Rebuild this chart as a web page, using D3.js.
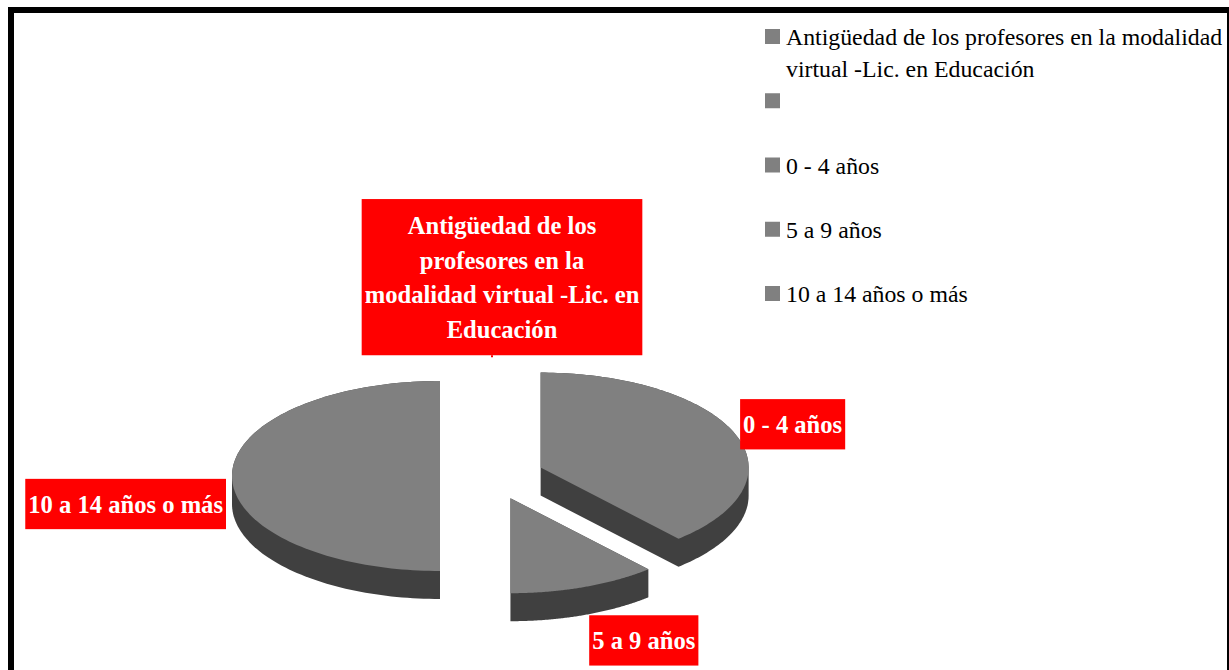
<!DOCTYPE html>
<html>
<head>
<meta charset="utf-8">
<script src="https://cdn.jsdelivr.net/npm/d3@7"></script>
<style>
  body { margin: 0; background: #fff; }
  svg { display: block; }
  text { font-family: "Liberation Serif", "Times New Roman", serif; }
</style>
</head>
<body>
<div id="chart"></div>
<script>
// chart data (first two entries are empty series entries with no value)
var categories = ["Antigüedad de los profesores en la modalidad virtual -Lic. en Educación",
                  "",
                  "0 - 4 años",
                  "5 a 9 años",
                  "10 a 14 años o más"];
var values = [0, 0, 10, 3, 13];

var width = 1229, height = 670;

var svg = d3.select("#chart")
  .append("svg")
    .attr("width", width)
    .attr("height", height);

svg.append("rect")
  .attr("width", width)
  .attr("height", height)
  .attr("fill", "#fff");

// black frame (bottom edge runs off the picture)
svg.append("rect")
  .attr("x", 11).attr("y", 10)
  .attr("width", 1219).attr("height", 720)
  .attr("fill", "none")
  .attr("stroke", "#000")
  .attr("stroke-width", 6);

// 3d pie geometry
var cx = 492, cy = 476, rx = 208, ry = 95, depth = 28, explode = 0.25;
var topColor = "#808080", sideColor = "#404040", labelColor = "#ff0000";

var data = categories.map(function(c, i) { return {name: c, value: values[i]}; });
var pie = d3.pie().sort(null).value(function(d) { return d.value; });
var arcs = pie(data);

function pt(a, r, ox, oy) {
  return [cx + ox + rx * r * Math.sin(a), cy + oy - ry * r * Math.cos(a)];
}

var pieG = svg.append("g");
var labelG = svg.append("g");

arcs.forEach(function(d) {
  var mid = (d.startAngle + d.endAngle) / 2;
  d.ox = explode * rx * Math.sin(mid);
  d.oy = -explode * ry * Math.cos(mid);
  d.mid = mid;
  if (d.endAngle - d.startAngle <= 0) return;

  var pts = [pt(0, 0, d.ox, d.oy)];
  var n = 120;
  for (var k = 0; k <= n; k++) {
    pts.push(pt(d.startAngle + (d.endAngle - d.startAngle) * k / n, 1, d.ox, d.oy));
  }
  var all = pts.concat(pts.map(function(p) { return [p[0], p[1] + depth]; }));
  var hull = d3.polygonHull(all);

  pieG.append("path")
    .attr("d", "M" + hull.join("L") + "Z")
    .attr("fill", sideColor);
  pieG.append("path")
    .attr("d", "M" + pts.join("L") + "Z")
    .attr("fill", topColor);
});

// measure helper for wrapping
var measure = svg.append("text").attr("visibility", "hidden");
function textWidth(s, size, weight) {
  measure.attr("font-size", size).attr("font-weight", weight).text(s);
  return measure.node().getComputedTextLength();
}
function wrap(s, maxW, size, weight) {
  var words = s.split(" "), lines = [], line = "";
  words.forEach(function(w) {
    var test = line ? line + " " + w : w;
    if (line && textWidth(test, size, weight) > maxW) { lines.push(line); line = w; }
    else line = test;
  });
  lines.push(line);
  return lines;
}

// data labels: red boxes with white bold text
var fs = 24.6, lineH = 34.5, legendFs = 23.8;
arcs.forEach(function(d) {
  if (!d.data.name) return;
  var lines = wrap(d.data.name, 280, fs, "bold");
  var tw = d3.max(lines, function(l) { return textWidth(l, fs, "bold"); });
  var w = tw + 6, h = lines.length * 35.3 + 15;
  var s = Math.sin(d.mid), c = Math.cos(d.mid);
  var rim = pt(d.mid, 1, d.ox, d.oy);
  var anchorY = rim[1] + (c < 0.1 ? depth : 0);

  var bx;
  if (Math.abs(s) < 0.2) bx = rim[0] - w / 2 + 10;
  else if (s > 0) bx = rim[0] + 5;
  else bx = rim[0] - 6 - w;
  var bcy = anchorY - c * (h / 2 + 2);
  var by = bcy - h / 2;

  if (d.value === 0) {
    labelG.append("line")
      .attr("x1", rim[0]).attr("x2", rim[0])
      .attr("y1", rim[1]).attr("y2", by + h)
      .attr("stroke", labelColor).attr("stroke-width", 2);
  }
  labelG.append("rect")
    .attr("x", bx).attr("y", by)
    .attr("width", w).attr("height", h)
    .attr("fill", labelColor);
  labelG.selectAll(null)
    .data(lines)
    .enter()
    .append("text")
      .attr("x", bx + w / 2)
      .attr("y", function(l, i) { return bcy + (i - (lines.length - 1) / 2) * lineH + 8.6; })
      .attr("text-anchor", "middle")
      .attr("font-size", fs)
      .attr("font-weight", "bold")
      .attr("fill", "#fff")
      .text(function(l) { return l; });
});

// legend
var legendY = d3.scaleLinear().domain([0, 1]).range([45, 109.25]);
var legend = svg.append("g");
categories.forEach(function(c, i) {
  var y = legendY(i);
  legend.append("rect")
    .attr("x", 765).attr("y", y - 16)
    .attr("width", 15).attr("height", 15)
    .attr("fill", topColor);
  var lines = c ? wrap(c, 440, legendFs, "normal") : [];
  legend.selectAll(null)
    .data(lines)
    .enter()
    .append("text")
      .attr("x", 786)
      .attr("y", function(l, j) { return y + j * 32; })
      .attr("font-size", legendFs)
      .attr("fill", "#000")
      .text(function(l) { return l; });
});

measure.remove();
</script>
</body>
</html>
